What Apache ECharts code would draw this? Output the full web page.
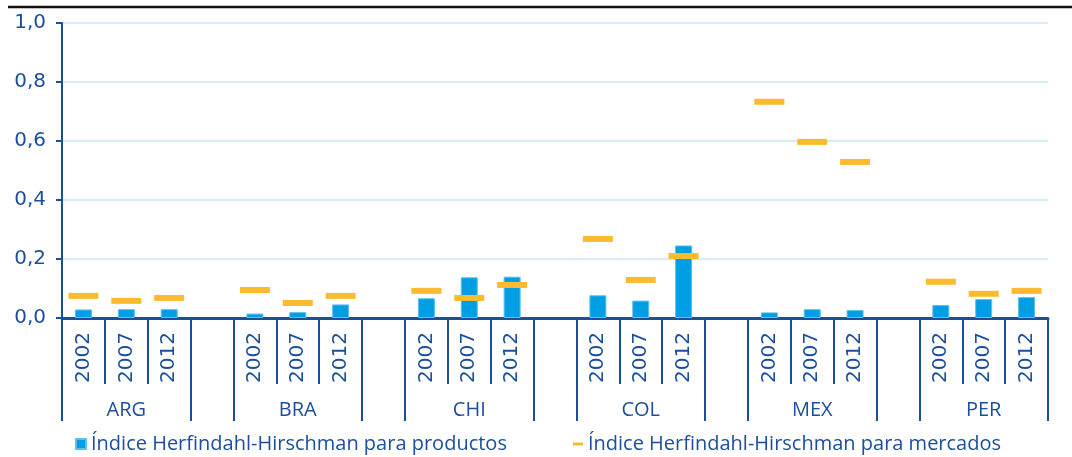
<!DOCTYPE html>
<html>
<head>
<meta charset="utf-8">
<script src="https://cdn.jsdelivr.net/npm/echarts@6/dist/echarts.min.js"></script>
<style>
  html, body { margin: 0; padding: 0; background: #fff; }
  #chart { width: 1072px; height: 457px; }
</style>
</head>
<body>
<div id="chart"></div>
<script>
  // paises y años
  const groups = ['ARG', 'BRA', 'CHI', 'COL', 'MEX', 'PER'];
  const years = ['2002', '2007', '2012'];

  // Índice Herfindahl-Hirschman para productos
  const prodARG = [0.029, 0.030, 0.030];
  const prodBRA = [0.015, 0.020, 0.046];
  const prodCHI = [0.067, 0.138, 0.140];
  const prodCOL = [0.077, 0.059, 0.246];
  const prodMEX = [0.019, 0.030, 0.027];
  const prodPER = [0.044, 0.064, 0.071];

  // Índice Herfindahl-Hirschman para mercados
  const mercARG = [0.075, 0.058, 0.068];
  const mercBRA = [0.095, 0.051, 0.075];
  const mercCHI = [0.092, 0.068, 0.112];
  const mercCOL = [0.268, 0.129, 0.210];
  const mercMEX = [0.733, 0.597, 0.529];
  const mercPER = [0.123, 0.082, 0.092];

  const prodAll = [prodARG, prodBRA, prodCHI, prodCOL, prodMEX, prodPER];
  const mercAll = [mercARG, mercBRA, mercCHI, mercCOL, mercMEX, mercPER];

  // categorias con un hueco entre paises
  let yearCats = [], groupCats = [], prodData = [], mercData = [];
  groups.forEach(function (g, gi) {
    years.forEach(function (y, yi) {
      yearCats.push(y);
      groupCats.push(yi === 1 ? g : '');
      prodData.push(prodAll[gi][yi]);
      mercData.push(mercAll[gi][yi]);
    });
    if (gi < groups.length - 1) {
      yearCats.push('');
      groupCats.push('');
      prodData.push(null);
      mercData.push(null);
    }
  });

  const blue = '#1b4f9c';
  const font = 'Open Sans';
  const numFont = 'DejaVu Sans';
  const nameProd = 'Índice Herfindahl-Hirschman para productos';
  const nameMerc = 'Índice Herfindahl-Hirschman para mercados';

  let myChart = echarts.init(document.getElementById('chart'));
  let option = {
    animation: false,
    textStyle: { fontFamily: font },
    grid: { left: 62, right: 24, top: 23, bottom: 139, containLabel: false },
    graphic: [
      {
        type: 'line',
        shape: { x1: 8, y1: 7, x2: 1072, y2: 7 },
        style: { stroke: '#111', lineWidth: 2.5 }
      }
    ],
    legend: {
      left: 70,
      top: 429,
      itemGap: 66,
      itemWidth: 10,
      itemHeight: 10,
      textStyle: { color: blue, fontSize: 20, fontFamily: font },
      data: [
        { name: nameProd, icon: 'rect' },
        { name: nameMerc, icon: 'path://M0,0h10v3h-10z' }
      ]
    },
    xAxis: [
      {
        type: 'category',
        data: yearCats,
        axisLine: { show: true, lineStyle: { color: blue, width: 3 } },
        axisTick: { show: true, interval: 0, length: 66, lineStyle: { color: blue, width: 2 } },
        axisLabel: {
          interval: 0, rotate: 90, margin: 14,
          color: blue, fontSize: 20, fontFamily: numFont
        }
      },
      {
        type: 'category',
        position: 'bottom',
        data: groupCats,
        axisLine: { show: false },
        axisTick: {
          show: true,
          interval: function (i) { return i % 4 === 0 || i % 4 === 3; },
          length: 103,
          lineStyle: { color: blue, width: 2 }
        },
        axisLabel: {
          interval: 0, margin: 82,
          color: blue, fontSize: 20, fontFamily: font
        }
      }
    ],
    yAxis: {
      type: 'value',
      min: 0,
      max: 1,
      interval: 0.2,
      axisLine: { show: true, lineStyle: { color: blue, width: 2 } },
      axisTick: { show: true, length: 6, lineStyle: { color: blue, width: 2 } },
      axisLabel: {
        margin: 16, color: blue, fontSize: 20, fontFamily: numFont,
        formatter: function (v) { return v.toFixed(1).replace('.', ','); }
      },
      splitLine: { lineStyle: { color: '#d6ecf7', width: 2 } }
    },
    series: [
      {
        name: nameProd,
        type: 'bar',
        xAxisIndex: 0,
        barWidth: 17,
        itemStyle: { color: '#009fe3', borderColor: '#5cc0ec', borderWidth: 1 },
        data: prodData
      },
      {
        name: nameMerc,
        type: 'scatter',
        xAxisIndex: 0,
        symbol: 'rect',
        symbolSize: [30, 6],
        itemStyle: { color: '#fbbb2e', opacity: 1 },
        z: 3,
        data: mercData
      }
    ]
  };
  myChart.setOption(option);
</script>
</body>
</html>
